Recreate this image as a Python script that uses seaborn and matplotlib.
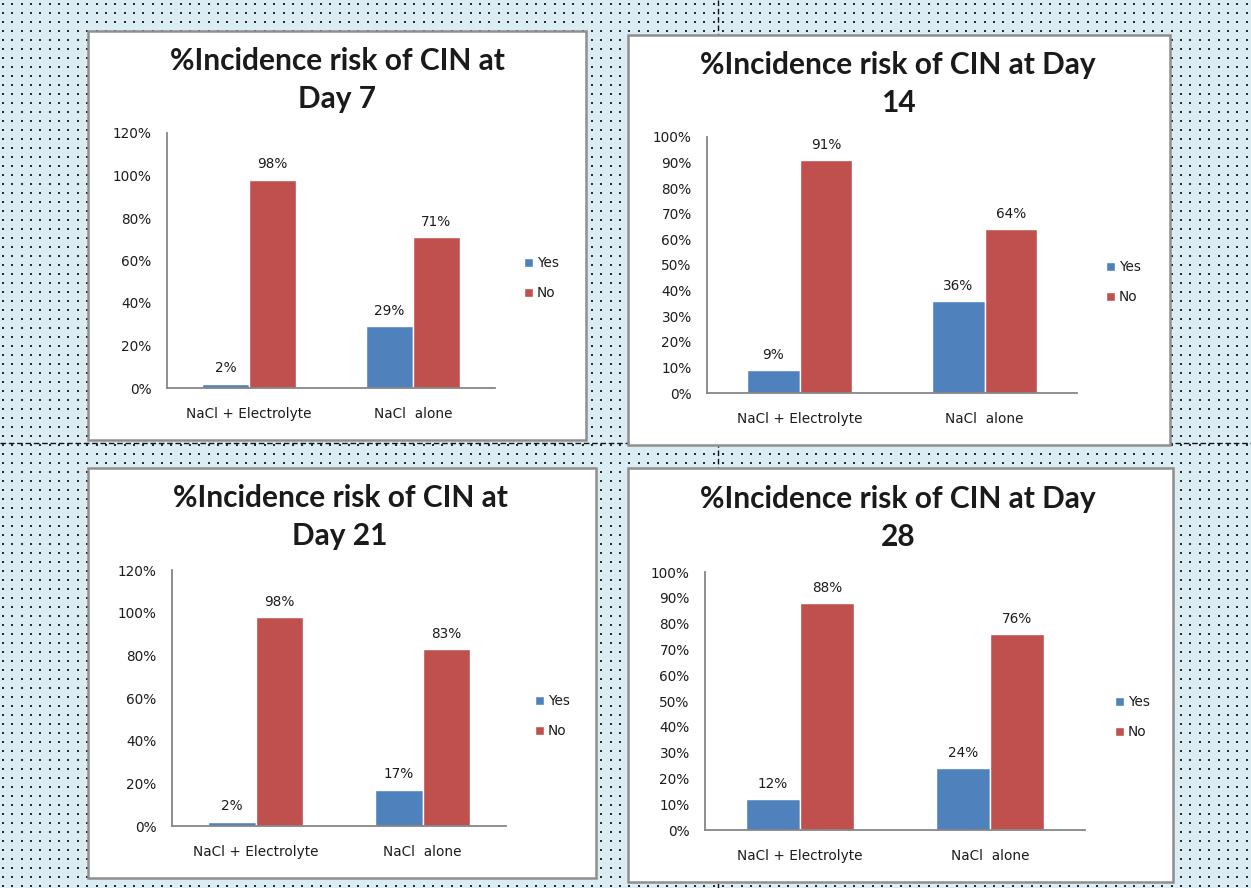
import numpy as np
import pandas as pd
import matplotlib
matplotlib.use("Agg")
import matplotlib.pyplot as plt
from matplotlib.patches import Rectangle
from matplotlib.ticker import PercentFormatter, MultipleLocator
import seaborn as sns

# ---- data ----
groups = ["NaCl + Electrolyte", "NaCl  alone"]
answers = ["Yes", "No"]
days = ["Day 7", "Day 14", "Day 21", "Day 28"]
day7_yes = [0.02, 0.29]
day7_no = [0.98, 0.71]
day14_yes = [0.09, 0.36]
day14_no = [0.91, 0.64]
day21_yes = [0.02, 0.17]
day21_no = [0.98, 0.83]
day28_yes = [0.12, 0.24]
day28_no = [0.88, 0.76]
titles = ["%Incidence risk of CIN at\nDay 7",
          "%Incidence risk of CIN at Day\n14",
          "%Incidence risk of CIN at\nDay 21",
          "%Incidence risk of CIN at Day\n28"]

series = {"Day 7": (day7_yes, day7_no), "Day 14": (day14_yes, day14_no),
          "Day 21": (day21_yes, day21_no), "Day 28": (day28_yes, day28_no)}
rows = []
for d in days:
    yes, no = series[d]
    for g, y, n in zip(groups, yes, no):
        rows.append({"day": d, "group": g, "answer": "Yes", "value": y})
        rows.append({"day": d, "group": g, "answer": "No", "value": n})
df = pd.DataFrame(rows)

# ---- layout helpers (pixel based) ----
W, H = 1251, 888
sns.set_theme(style="white")
plt.rcParams["font.family"] = ["DejaVu Sans"]
fig = plt.figure(figsize=(W / 100, H / 100), dpi=100)
fig.patch.set_facecolor("#dcecf3")


def fx(x):
    return x / W


def fy(y):
    return 1 - y / H


# dotted page background
bg = fig.add_axes([0, 0, 1, 1], zorder=0)
bg.set_xlim(0, W)
bg.set_ylim(H, 0)
bg.axis("off")
gx, gy = np.meshgrid(np.arange(3, W, 9.35), np.arange(4, H, 9.0))
bg.scatter(gx.ravel(), gy.ravel(), s=2.4, c="#2b2b2b", marker="s", linewidths=0)
bg.plot([0, W], [443, 443], color="#111111", lw=1.0, ls=(0, (4, 2)))
bg.plot([718, 718], [0, H], color="#111111", lw=1.0, ls=(0, (4, 2)))

# panel frames: (left, top, right, bottom)
frames = [(88, 31, 586, 440), (628, 35, 1170, 445),
          (88, 468, 596, 878), (628, 468, 1173, 882)]
for (l, t, r, b) in frames:
    bg.add_patch(Rectangle((l, t), r - l, b - t, facecolor="white",
                           edgecolor="#8f8f8f", lw=1.8, zorder=3))

# plot areas: (axis x0, axis x1, y of top value, y of zero)
areas = [(167, 495, 133, 388), (707, 1077, 137, 393),
         (172, 506, 570, 826), (705, 1085, 572, 830)]
ymax = [1.2, 1.0, 1.2, 1.0]
ystep = [0.2, 0.1, 0.2, 0.1]
title_pos = [(337, 80), (898, 84), (340, 517), (898, 518)]
legend_pos = [(524, 278), (1106, 282), (535, 716), (1115, 717)]
palette = {"Yes": "#4f81bd", "No": "#c0504d"}
fs = 9.8

for i, d in enumerate(days):
    x0, x1, ytop, yzero = areas[i]
    ax = fig.add_axes([fx(x0), fy(yzero), (x1 - x0) / W, (yzero - ytop) / H],
                      zorder=5)
    ax.patch.set_alpha(0)
    sub = df[df["day"] == d]
    sns.barplot(data=sub, x="group", y="value", hue="answer", order=groups,
                hue_order=answers, palette=palette, width=0.57, gap=0,
                saturation=1, errorbar=None, ax=ax)
    ax.set_ylim(0, ymax[i])
    ax.set_xlim(-0.5, 1.5)
    ax.yaxis.set_major_locator(MultipleLocator(ystep[i]))
    ax.yaxis.set_major_formatter(PercentFormatter(1.0, decimals=0))
    ax.set_xlabel("")
    ax.set_ylabel("")
    for s in ["top", "right"]:
        ax.spines[s].set_visible(False)
    for s in ["left", "bottom"]:
        ax.spines[s].set_color("#868686")
        ax.spines[s].set_linewidth(1.3)
    ax.tick_params(axis="y", length=0, pad=11, labelsize=fs, labelcolor="#1c1c1c")
    ax.tick_params(axis="x", length=0, pad=14, labelsize=fs, labelcolor="#1c1c1c")
    for cont in ax.containers:
        ax.bar_label(cont, labels=[f"{v:.0%}" for v in cont.datavalues],
                     padding=6, fontsize=fs, color="#1c1c1c")
    leg = ax.legend(loc="center left",
                    bbox_to_anchor=(fx(legend_pos[i][0]), fy(legend_pos[i][1])),
                    bbox_transform=fig.transFigure, frameon=False,
                    borderpad=0, borderaxespad=0, handlelength=0.65,
                    handleheight=0.65, handletextpad=0.3, labelspacing=1.15,
                    fontsize=fs)
    for t in leg.get_texts():
        t.set_color("#1c1c1c")
    tx, ty = title_pos[i]
    fig.text(fx(tx), fy(ty), titles[i], ha="center", va="center",
             fontsize=21.5, fontweight="bold", family=["Lato", "DejaVu Sans"],
             color="#1a1a1a", linespacing=1.4, zorder=10)

fig.savefig("out.png", dpi=100, facecolor=fig.get_facecolor())
